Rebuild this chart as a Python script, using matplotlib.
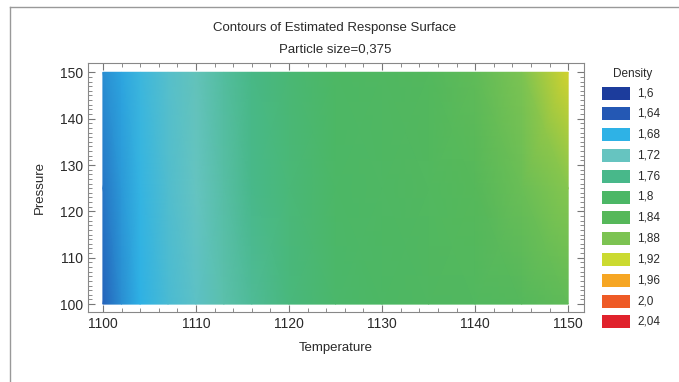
import matplotlib
matplotlib.use("Agg")
import matplotlib.pyplot as plt
from matplotlib.colors import LinearSegmentedColormap
from matplotlib.patches import Rectangle
from matplotlib.lines import Line2D
import numpy as np

# estimated density
temperature = [1100, 1102, 1104, 1107, 1110, 1113, 1116, 1120, 1125, 1130, 1135, 1140, 1145, 1150]
pressure = [100, 125, 150]
density_p100 = [1.645, 1.665, 1.68, 1.70, 1.715, 1.735, 1.75, 1.775, 1.795, 1.805, 1.815, 1.825, 1.835, 1.85]
density_p125 = [1.655, 1.67, 1.685, 1.705, 1.72, 1.74, 1.76, 1.78, 1.80, 1.81, 1.825, 1.84, 1.86, 1.885]
density_p150 = [1.665, 1.675, 1.69, 1.71, 1.725, 1.745, 1.765, 1.785, 1.805, 1.815, 1.83, 1.85, 1.88, 1.925]

levels = [1.6, 1.64, 1.68, 1.72, 1.76, 1.8, 1.84, 1.88, 1.92, 1.96, 2.0, 2.04]
level_labels = ["1,6", "1,64", "1,68", "1,72", "1,76", "1,8", "1,84", "1,88", "1,92", "1,96", "2,0", "2,04"]
level_colors = ["#1c3c9c", "#2458b4", "#2eb2e6", "#66c4c0", "#48b88a", "#4cb766",
                "#56b85a", "#7cc352", "#cbda30", "#f6a623", "#ee5a26", "#e0222c"]

FONT = ["Liberation Sans Narrow", "Liberation Sans", "DejaVu Sans"]
plt.rcParams["font.family"] = FONT

fig = plt.figure(figsize=(6.79, 3.82), dpi=100)
ax = fig.add_axes([88/679, 1 - 312/382, (584-88)/679, (312-63)/382])

lo, hi = levels[0], levels[-1]
pos = [(v - lo) / (hi - lo) for v in levels]
cmap = LinearSegmentedColormap.from_list("dens", list(zip(pos, level_colors)))

Z = np.array([density_p100, density_p125, density_p150])
T, P = np.meshgrid(temperature, pressure)
ax.pcolormesh(T, P, Z, shading="gouraud", cmap=cmap, vmin=lo, vmax=hi)

ax.set_xlim(1098.4, 1151.7)
ax.set_ylim(98.3, 152.0)
ax.set_xticks(np.arange(1100, 1151, 10))
ax.set_xticks(np.arange(1100, 1151, 2), minor=True)
ax.set_yticks(np.arange(100, 151, 10))
ax.set_yticks(np.arange(100, 151, 1), minor=True)
ax.tick_params(which="both", direction="in", top=True, right=True, colors="#777777",
               labelcolor="#2a2a2a", labelsize=10)
ax.tick_params(which="major", length=5)
ax.tick_params(which="minor", length=3)
for s in ax.spines.values():
    s.set_color("#888888")

ax.set_xlabel("Temperature", fontsize=9.5, color="#2a2a2a", labelpad=8)
ax.set_ylabel("Pressure", fontsize=9.5, color="#2a2a2a", labelpad=10)

fig.text(335/679, 1 - 28/382, "Contours of Estimated Response Surface", ha="center", va="center",
         fontsize=9.5, color="#2a2a2a")
fig.text(335/679, 1 - 50/382, "Particle size=0,375", ha="center", va="center",
         fontsize=9.5, color="#2a2a2a")

# legend
fig.text(633/679, 1 - 74/382, "Density", ha="center", va="center", fontsize=8.5, color="#2a2a2a")
for i, (lab, col) in enumerate(zip(level_labels, level_colors)):
    yc = 93 + i * 20.8
    fig.add_artist(Rectangle((602/679, 1 - (yc + 6.5)/382), 28/679, 13/382,
                             transform=fig.transFigure, facecolor=col, edgecolor="none"))
    fig.text(637/679, 1 - yc/382, lab, ha="left", va="center", fontsize=8.5, color="#2a2a2a")

# outer frame lines (top and left)
fig.add_artist(Line2D([10/679, 1], [1 - 7/382, 1 - 7/382], transform=fig.transFigure, color="#999999", lw=1))
fig.add_artist(Line2D([10/679, 10/679], [0, 1 - 7/382], transform=fig.transFigure, color="#999999", lw=1))

fig.savefig("out.png", dpi=100)
